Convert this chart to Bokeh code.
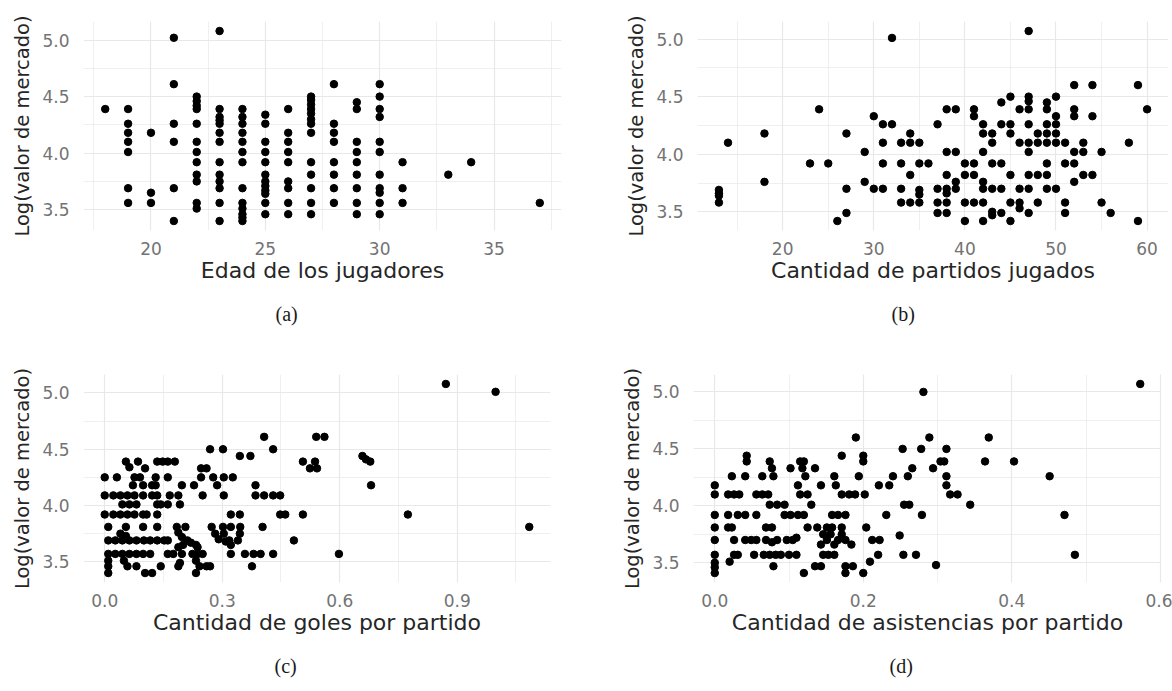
from bokeh.plotting import figure
from bokeh.layouts import column, row
from bokeh.models import Range1d, FixedTicker, Title, NumeralTickFormatter
from bokeh.embed import file_html
from bokeh.resources import INLINE

# ---------------------------------------------------------------------------
# (a) Edad de los jugadores: one list of log market values per age
edades = [18, 19, 20, 21, 22, 23, 24, 25, 26, 27, 28, 29, 30, 31, 33, 34, 37]
valores_por_edad = [
    [4.39],
    [4.39, 4.26, 4.18, 4.10, 4.01, 3.69, 3.56],
    [4.18, 3.65, 3.56],
    [5.02, 4.61, 4.26, 4.10, 3.69, 3.40],
    [4.50, 4.46, 4.42, 4.39, 4.26, 4.10, 4.01, 3.92, 3.81, 3.75, 3.56, 3.51],
    [5.08, 4.39, 4.32, 4.29, 4.26, 4.18, 4.10, 3.92, 3.81, 3.75, 3.69, 3.56, 3.40],
    [4.39, 4.32, 4.26, 4.18, 4.10, 4.01, 3.92, 3.69, 3.56, 3.51, 3.46, 3.43, 3.40],
    [4.34, 4.26, 4.10, 4.01, 3.92, 3.81, 3.75, 3.71, 3.67, 3.64, 3.56, 3.46],
    [4.39, 4.18, 4.10, 4.01, 3.92, 3.75, 3.69, 3.56, 3.46],
    [4.50, 4.47, 4.43, 4.39, 4.35, 4.30, 4.26, 4.18, 3.92, 3.81, 3.69, 3.56, 3.46],
    [4.61, 4.26, 4.18, 4.10, 3.92, 3.81, 3.69, 3.56],
    [4.45, 4.39, 4.10, 4.01, 3.92, 3.81, 3.69, 3.56, 3.46],
    [4.61, 4.50, 4.39, 4.32, 4.10, 4.01, 3.81, 3.69, 3.65, 3.56, 3.46],
    [3.92, 3.69, 3.56],
    [3.81],
    [3.92],
    [3.56],
]

# (b) Cantidad de partidos jugados
partidos = [
    13, 13, 13, 13, 14, 18, 18, 23, 24, 25, 26, 27, 27, 27, 29, 29, 30, 30, 31,
    31, 32, 31, 31, 32, 33, 34, 35, 34, 33, 34, 33, 33, 34, 35, 35, 36, 35, 35,
    37, 37, 38, 37, 38, 37, 38, 38, 39, 38, 39, 38, 38, 39, 39,
    40, 41, 40, 41, 40, 41, 42, 40, 41, 41,
    42, 42, 43, 42, 43, 42, 42, 43, 44, 43, 44, 42, 43, 43, 44,
    44, 44, 45, 45, 45, 45, 45, 46, 45, 46, 46, 46, 46,
    47, 47, 47, 47, 47, 47, 47, 47, 47, 47, 48, 48, 48, 48,
    49, 49, 49, 49, 49, 49, 49, 49, 50, 50, 50, 50, 50, 50,
    51, 51, 51, 51, 52, 52, 52, 52, 52, 52, 53, 53, 53, 54, 54, 54,
    55, 55, 56, 58, 59, 59, 60,
]
valor_b = [
    3.69, 3.66, 3.64, 3.58, 4.10, 4.18, 3.76, 3.92, 4.39, 3.92, 3.42, 4.18, 3.70, 3.49, 4.02, 3.76, 4.33, 3.70, 3.70,
    4.26, 4.26, 4.10, 3.92, 5.01, 4.10, 4.10, 4.10, 4.18, 3.92, 3.82, 3.70, 3.58, 3.58, 3.58, 3.92, 3.92, 3.69, 3.65,
    4.26, 3.70, 3.70, 3.58, 3.58, 3.49, 3.49, 4.39, 4.39, 4.02, 4.02, 3.82, 3.66, 3.70, 3.76,
    3.92, 3.92, 3.82, 3.82, 3.58, 3.58, 3.58, 3.42, 4.39, 4.33,
    4.26, 4.18, 4.18, 4.02, 4.10, 3.76, 3.70, 3.70, 3.70, 3.92, 3.92, 3.42, 3.50, 3.47, 3.49,
    4.45, 4.26, 4.26, 4.50, 4.18, 3.82, 3.58, 3.58, 3.42, 4.39, 4.10, 3.70, 3.53,
    5.07, 4.50, 4.46, 4.39, 4.26, 4.10, 4.02, 3.82, 3.70, 3.49, 4.18, 4.10, 3.82, 3.58,
    4.45, 4.39, 4.26, 4.18, 4.10, 3.92, 3.82, 3.70, 4.50, 4.33, 4.26, 4.18, 4.10, 3.70,
    4.10, 3.92, 3.58, 3.49, 4.60, 4.39, 4.33, 4.02, 3.92, 3.76, 4.10, 4.02, 3.82, 3.82, 4.60, 4.33,
    4.02, 3.58, 3.49, 4.10, 4.60, 3.42, 4.39,
]

# (c) Cantidad de goles por partido
goles = [
    0.871, 0.998, 1.084, 0.774, 0.598, 0.658, 0.667, 0.678, 0.680,
    0.540, 0.561, 0.506, 0.537, 0.524, 0.542, 0.506, 0.483,
    0.407, 0.430, 0.345, 0.372, 0.269, 0.302, 0.385,
    0.385, 0.407, 0.430, 0.448, 0.448, 0.461, 0.403, 0.430,
    0.322, 0.358, 0.380, 0.398, 0.376, 0.322, 0.345, 0.322, 0.346,
    0.345, 0.340, 0.318, 0.322, 0.273, 0.302, 0.282, 0.291, 0.304, 0.309,
    0.277, 0.304, 0.327, 0.246, 0.260, 0.246, 0.228, 0.287, 0.250, 0.304, 0.197,
    0.161, 0.179, 0.134, 0.148, 0.161, 0.166, 0.188, 0.161, 0.192, 0.134, 0.143,
    0.130, 0.134, 0.130, 0.103, 0.085, 0.054, 0.063, 0.076, 0.090,
    0.072, 0.098, 0.121, 0.0, 0.031,
    0.0, 0.022, 0.040, 0.058, 0.076, 0.098, 0.121, 0.045, 0.063, 0.081,
    0.0, 0.022, 0.040, 0.058, 0.076, 0.098, 0.107, 0.134,
    0.009, 0.054, 0.098, 0.134, 0.184, 0.206,
    0.009, 0.027, 0.045, 0.063, 0.081, 0.100, 0.116, 0.134, 0.152, 0.161,
    0.040, 0.054, 0.188, 0.197, 0.211, 0.220, 0.233, 0.188, 0.200, 0.237,
    0.009, 0.027, 0.045, 0.063, 0.081, 0.098, 0.116,
    0.161, 0.175, 0.197, 0.224, 0.237, 0.250,
    0.009, 0.009, 0.009, 0.049, 0.058, 0.081, 0.103, 0.121, 0.143,
    0.188, 0.192, 0.233, 0.242, 0.260, 0.269, 0.233,
]
valor_c = [
    5.08, 5.01, 3.81, 3.92, 3.57, 4.44, 4.41, 4.39, 4.18,
    4.61, 4.61, 4.39, 4.39, 4.33, 4.33, 3.92, 3.69,
    4.61, 4.50, 4.44, 4.44, 4.50, 4.50, 4.18,
    4.09, 4.09, 4.09, 4.09, 3.92, 3.92, 3.81, 3.57,
    3.57, 3.57, 3.57, 3.57, 3.46, 3.92, 3.92, 3.81, 3.81,
    3.75, 3.69, 3.69, 3.65, 3.81, 3.81, 3.75, 3.70, 3.75, 3.68,
    4.25, 4.25, 4.25, 4.33, 4.33, 4.25, 4.18, 4.18, 4.09, 4.09, 4.18,
    4.39, 4.39, 4.39, 4.39, 4.25, 4.09, 4.09, 4.01, 4.01, 4.01, 4.01,
    4.18, 4.09, 4.25, 4.33, 4.39, 4.39, 4.34, 4.25, 4.25,
    4.18, 4.18, 4.18, 4.25, 4.25,
    4.09, 4.09, 4.09, 4.09, 4.09, 4.09, 4.09, 4.01, 4.01, 4.01,
    3.92, 3.92, 3.92, 3.92, 3.92, 3.92, 3.92, 3.92,
    3.81, 3.81, 3.81, 3.81, 3.81, 3.81,
    3.69, 3.69, 3.69, 3.69, 3.69, 3.69, 3.69, 3.69, 3.69, 3.69,
    3.75, 3.73, 3.76, 3.72, 3.69, 3.67, 3.65, 3.63, 3.65, 3.63,
    3.57, 3.57, 3.57, 3.57, 3.57, 3.57, 3.57,
    3.57, 3.57, 3.57, 3.57, 3.57, 3.57,
    3.51, 3.46, 3.40, 3.51, 3.46, 3.46, 3.40, 3.40, 3.46,
    3.46, 3.49, 3.40, 3.46, 3.46, 3.46, 3.51,
]

# (d) Cantidad de asistencias por partido
asistencias = [
    0.573, 0.281, 0.190, 0.289, 0.369, 0.253, 0.278, 0.312, 0.364, 0.403,
    0.294, 0.304, 0.309, 0.266, 0.260, 0.312, 0.451, 0.312, 0.317, 0.327,
    0.344, 0.255, 0.262, 0.471, 0.485, 0.279, 0.231, 0.249, 0.254, 0.271,
    0.298, 0.221, 0.235, 0.240, 0.200, 0.200, 0.194, 0.171, 0.161, 0.163,
    0.171, 0.181, 0.189, 0.202, 0.130, 0.143, 0.158, 0.166, 0.176, 0.204,
    0.212, 0.222, 0.220, 0.209, 0.200, 0.176, 0.176, 0.186,
    0.184, 0.176, 0.171, 0.166, 0.158, 0.171,
    0.146, 0.151, 0.156, 0.143, 0.161, 0.146, 0.153, 0.161, 0.135, 0.143,
    0.120, 0.125, 0.138, 0.151, 0.112, 0.120, 0.102, 0.115, 0.125, 0.112,
    0.102, 0.115, 0.120, 0.118, 0.122, 0.135, 0.097, 0.105, 0.110,
    0.089, 0.100, 0.110, 0.079, 0.077, 0.074, 0.056, 0.064, 0.072,
    0.074, 0.084, 0.094, 0.094, 0.069, 0.077, 0.069, 0.077, 0.084,
    0.066, 0.074, 0.082, 0.079, 0.064, 0.043, 0.043, 0.041, 0.023,
    0.018, 0.026, 0.033,
    0.0, 0.0, 0.0, 0.0, 0.0, 0.0, 0.0, 0.0, 0.0,
    0.018, 0.031, 0.041, 0.056, 0.018, 0.023,
    0.026, 0.041, 0.049, 0.056, 0.026, 0.031, 0.053, 0.020,
]
valor_d = [
    5.07, 5.00, 4.60, 4.60, 4.60, 4.50, 4.50, 4.50, 4.39, 4.39,
    4.33, 4.39, 4.39, 4.33, 4.26, 4.26, 4.26, 4.18, 4.10, 4.10,
    4.01, 4.01, 4.01, 3.92, 3.57, 3.92, 3.92, 3.74, 3.57, 3.57,
    3.48, 4.18, 4.18, 4.26, 4.44, 4.39, 4.26, 4.44, 4.26, 4.18,
    4.10, 4.10, 4.10, 4.10, 4.01, 4.18, 3.92, 3.92, 3.92, 3.81,
    3.70, 3.70, 3.57, 3.51, 3.41, 3.41, 3.47, 3.47,
    3.66, 3.70, 3.75, 3.70, 3.81, 3.81,
    3.75, 3.70, 3.75, 3.66, 3.66, 3.57, 3.57, 3.57, 3.47, 3.47,
    3.41, 3.81, 3.81, 3.81, 3.92, 3.92, 3.92, 4.10, 4.10, 4.18,
    4.33, 4.39, 4.39, 4.33, 4.26, 4.33, 3.70, 3.70, 3.72,
    3.57, 3.57, 3.57, 4.26, 4.33, 4.39, 4.10, 4.10, 4.10,
    4.01, 4.01, 4.01, 3.92, 3.81, 3.81, 3.70, 3.68, 3.70,
    3.57, 3.57, 3.57, 3.47, 4.26, 4.44, 4.39, 4.26, 4.26,
    4.10, 4.10, 4.10,
    4.18, 4.10, 3.92, 3.81, 3.70, 3.57, 3.50, 3.46, 3.41,
    3.92, 3.92, 3.92, 3.92, 3.81, 3.81,
    3.70, 3.70, 3.70, 3.70, 3.57, 3.57, 3.57, 3.51,
]

edad = [e for e, vals in zip(edades, valores_por_edad) for _ in vals]
valor_a = [v for vals in valores_por_edad for v in vals]

Y_TITLE = "Log(valor de mercado)"
Y_TICKS = [3.5, 4.0, 4.5, 5.0]
Y_MINOR = [3.75, 4.25, 4.75]

SANS = "DejaVu Sans"
GRID = "#e8e8e8"


def expanded(vals, frac=0.05):
    lo, hi = min(vals), max(vals)
    pad = (hi - lo) * frac
    return Range1d(lo - pad, hi + pad)


def panel(x, y, xlabel, xticks, xminor, xfmt, caption, borders, height, cap_offset):
    left, right, top, bottom = borders
    p = figure(width=586, height=height, output_backend="svg", toolbar_location=None,
               x_range=expanded(x), y_range=expanded(y),
               min_border_left=left, min_border_right=right,
               min_border_top=top, min_border_bottom=bottom,
               background_fill_color="white", border_fill_color="white",
               outline_line_color=None)

    p.xaxis.ticker = FixedTicker(ticks=xticks, minor_ticks=xminor)
    p.yaxis.ticker = FixedTicker(ticks=Y_TICKS, minor_ticks=Y_MINOR)
    p.xaxis.formatter = NumeralTickFormatter(format=xfmt)
    p.yaxis.formatter = NumeralTickFormatter(format="0.0")

    for ax in (p.xaxis, p.yaxis):
        ax.axis_line_color = None
        ax.major_tick_line_color = None
        ax.minor_tick_line_color = None
        ax.major_tick_out = 0
        ax.major_tick_in = 0
        ax.major_label_text_font = SANS
        ax.major_label_text_font_size = "17px"
        ax.major_label_text_color = "#737373"
        ax.axis_label_text_font = SANS
        ax.axis_label_text_font_style = "normal"
        ax.axis_label_text_color = "#262626"

    p.xaxis.axis_label = xlabel
    p.xaxis.axis_label_text_font_size = "22px"
    p.xaxis.major_label_standoff = 7
    p.xaxis.axis_label_standoff = 0
    p.yaxis.axis_label = Y_TITLE
    p.yaxis.axis_label_text_font_size = "19.5px"
    p.yaxis.major_label_standoff = 10
    p.yaxis.axis_label_standoff = 5

    for g in (p.xgrid, p.ygrid):
        g.grid_line_color = GRID
        g.grid_line_width = 1.2
        g.minor_grid_line_color = GRID
        g.minor_grid_line_width = 0.7

    p.scatter(x, y, size=7.5, color="black", line_color="black")

    p.add_layout(Title(text=caption, align="left", offset=cap_offset,
                       text_font="Liberation Serif", text_font_size="20px",
                       text_font_style="normal", text_color="#1a1a1a",
                       standoff=30), "below")
    return p


pa = panel(edad, valor_a, "Edad de los jugadores", [20, 25, 30, 35],
           [17.5, 22.5, 27.5, 32.5, 37.5], "0", "(a)", (83, 25, 21, 115), 345, 192)
pb = panel(partidos, valor_b, "Cantidad de partidos jugados", [20, 30, 40, 50, 60],
           [15, 25, 35, 45, 55], "0", "(b)", (111, 4, 21, 115), 345, 194)
pc = panel(goles, valor_c, "Cantidad de goles por partido", [0.0, 0.3, 0.6, 0.9],
           [0.15, 0.45, 0.75, 1.05], "0.0", "(c)", (83, 36, 29, 106), 346, 191)
pd = panel(asistencias, valor_d, "Cantidad de asistencias por partido", [0.0, 0.2, 0.4, 0.6],
           [0.1, 0.3, 0.5], "0.0", "(d)", (107, 11, 29, 106), 346, 196)

layout = column(row(pa, pb), row(pc, pd))

with open("out.html", "w") as f:
    f.write(file_html(layout, INLINE))
